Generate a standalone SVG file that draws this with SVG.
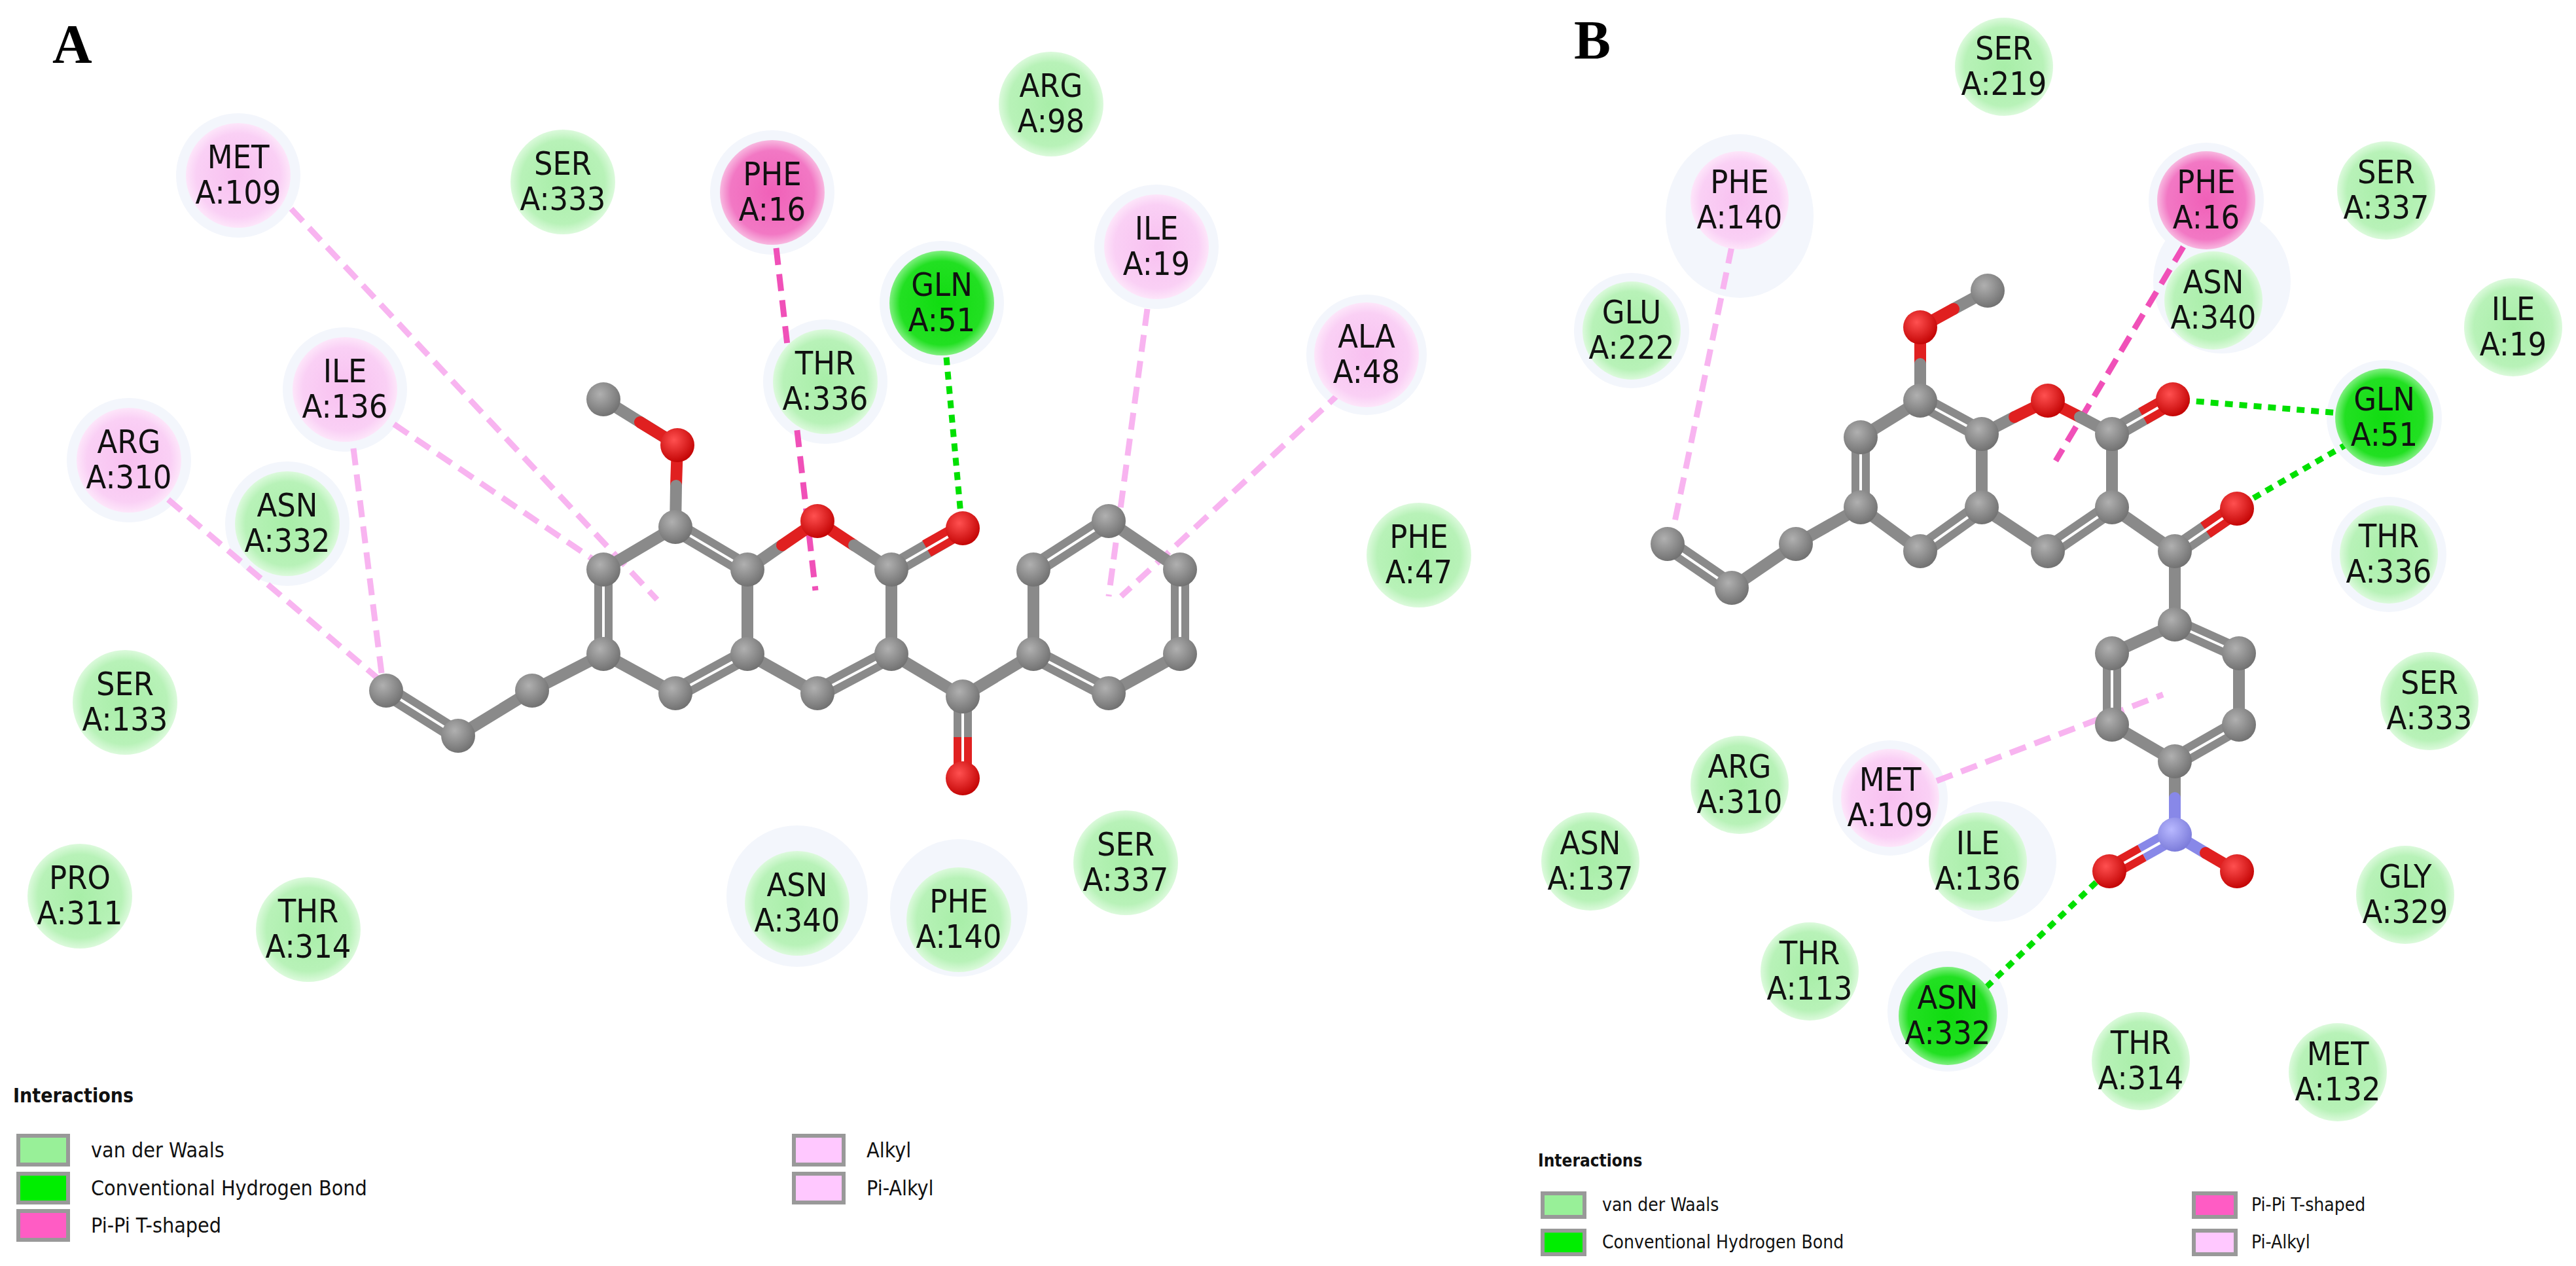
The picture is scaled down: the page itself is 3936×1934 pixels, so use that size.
<svg xmlns="http://www.w3.org/2000/svg" width="3936" height="1934" viewBox="0 0 3936 1934">
<defs>
<radialGradient id="gC" cx="0.4" cy="0.35" r="0.7"><stop offset="0" stop-color="#b0b0b0"/><stop offset="1" stop-color="#6e6e6e"/></radialGradient>
<radialGradient id="gO" cx="0.4" cy="0.35" r="0.7"><stop offset="0" stop-color="#ff5050"/><stop offset="1" stop-color="#c00000"/></radialGradient>
<radialGradient id="gN" cx="0.4" cy="0.35" r="0.7"><stop offset="0" stop-color="#b8b8ff"/><stop offset="1" stop-color="#7878d8"/></radialGradient>
<radialGradient id="vg"><stop offset="0" stop-color="#a8eea8"/><stop offset="0.8" stop-color="#b8f2b8"/><stop offset="1" stop-color="#dcfadc"/></radialGradient>
<radialGradient id="hg"><stop offset="0" stop-color="#10dc10"/><stop offset="0.8" stop-color="#22e022"/><stop offset="1" stop-color="#80f080"/></radialGradient>
<radialGradient id="pp"><stop offset="0" stop-color="#f060b8"/><stop offset="0.8" stop-color="#f278c4"/><stop offset="1" stop-color="#f8b8e0"/></radialGradient>
<radialGradient id="lp"><stop offset="0" stop-color="#f8c0f0"/><stop offset="0.8" stop-color="#fad0f5"/><stop offset="1" stop-color="#fde6fa"/></radialGradient>
</defs>
<style>
.t{font-family:"DejaVu Sans Condensed","DejaVu Sans",sans-serif;font-stretch:condensed;font-size:50px;fill:#111;text-anchor:middle}
.halo{fill:#f3f6fc}
.b{stroke:#8a8a8a;stroke-width:18;stroke-linecap:round;fill:none}
.d{stroke:#8a8a8a;stroke-width:28;stroke-linecap:butt;fill:none}
.r{stroke:#e02020}
.n{stroke:#8888e8}
.w{stroke:#fff;stroke-width:4;fill:none}
.lab{font-family:"Liberation Serif",serif;font-weight:bold;font-size:84px;fill:#000}
.lg{font-family:"DejaVu Sans Condensed","DejaVu Sans",sans-serif;font-stretch:condensed;fill:#111}
.sw{stroke:#999;stroke-width:6}
.pl{stroke:#f8b4f0;stroke-width:9;stroke-dasharray:26 14;fill:none}
.hp{stroke:#f050b8;stroke-width:9;stroke-dasharray:26 14;fill:none}
.hb{stroke:#00e000;stroke-width:9;stroke-dasharray:12 10;fill:none}
</style>
<rect width="3936" height="1934" fill="#fff"/>
<text class="lab" x="80" y="96">A</text>
<text class="lab" x="2405" y="90">B</text>

<g id="halosA">
<circle class="halo" cx="364" cy="268" r="95"/><circle class="halo" cx="1180" cy="294" r="95"/><circle class="halo" cx="1767" cy="377" r="95"/>
<circle class="halo" cx="1439" cy="463" r="95"/><circle class="halo" cx="1261" cy="583" r="95"/><circle class="halo" cx="527" cy="595" r="95"/>
<circle class="halo" cx="197" cy="703" r="95"/><circle class="halo" cx="439" cy="800" r="95"/><circle class="halo" cx="1218" cy="1369" r="108"/>
<circle class="halo" cx="1465" cy="1387" r="105"/><circle class="halo" cx="2088" cy="542" r="92"/>
</g>
<g id="halosB">
<ellipse class="halo" cx="2658" cy="330" rx="113" ry="125"/><circle class="halo" cx="3371" cy="306" r="88"/><ellipse class="halo" cx="3395" cy="430" rx="105" ry="110"/>
<circle class="halo" cx="3643" cy="638" r="88"/><circle class="halo" cx="3650" cy="847" r="88"/><circle class="halo" cx="2888" cy="1219" r="88"/>
<circle class="halo" cx="3050" cy="1316" r="92"/><circle class="halo" cx="2976" cy="1545" r="92"/><circle class="halo" cx="2493" cy="505" r="88"/>
</g>

<g id="connectors">
<line class="pl" x1="445" y1="319" x2="1004" y2="916"/>
<line class="pl" x1="602" y1="648" x2="935" y2="874"/>
<line class="pl" x1="540" y1="685" x2="584" y2="1036"/>
<line class="pl" x1="257" y1="763" x2="577" y2="1036"/>
<line class="hp" x1="1186" y1="379" x2="1246" y2="902"/>
<line class="hb" x1="1446" y1="546" x2="1468" y2="786"/>
<line class="pl" x1="1753" y1="472" x2="1694" y2="911"/>
<line class="pl" x1="2050" y1="598" x2="1713" y2="911"/>
<line class="pl" x1="2646" y1="377" x2="2555" y2="816"/>
<line class="hp" x1="3336" y1="377" x2="3141" y2="704"/>
<line class="hb" x1="3587" y1="632" x2="3342" y2="612"/>
<line class="hb" x1="3587" y1="678" x2="3436" y2="765"/>
<line class="pl" x1="2959" y1="1193" x2="3305" y2="1061"/>
<line class="hb" x1="3035" y1="1508" x2="3210" y2="1341"/>
</g>

<g id="moleculeA">
<g>
<line class="d" x1="1032" y1="805" x2="1142" y2="870"/>
<line class="d" x1="922" y1="870" x2="922" y2="999"/>
<line class="d" x1="1032" y1="1059" x2="1142" y2="999"/>
<line class="d" x1="1362" y1="999" x2="1249" y2="1059"/>
<line class="d" x1="1362" y1="870" x2="1471" y2="807"/>
<line class="d r" x1="1416" y1="838" x2="1471" y2="807"/>
<line class="d" x1="1471" y1="1064" x2="1471" y2="1189"/>
<line class="d r" x1="1471" y1="1126" x2="1471" y2="1189"/>
<line class="d" x1="1579" y1="870" x2="1694" y2="796"/>
<line class="d" x1="1803" y1="870" x2="1803" y2="999"/>
<line class="d" x1="1694" y1="1059" x2="1579" y2="999"/>
<line class="d" x1="700" y1="1124" x2="590" y2="1055"/>
</g>
<g>
<line class="b" x1="922" y1="610" x2="1035" y2="680"/>
<line class="b r" x1="978" y1="645" x2="1035" y2="680"/>
<line class="b r" x1="1035" y1="680" x2="1033" y2="742"/>
<line class="b" x1="1033" y1="742" x2="1032" y2="805"/>
<line class="b" x1="1032" y1="805" x2="922" y2="870"/>
<line class="b" x1="922" y1="999" x2="1032" y2="1059"/>
<line class="b" x1="1142" y1="999" x2="1142" y2="870"/>
<line class="b" x1="1142" y1="870" x2="1195" y2="833"/>
<line class="b r" x1="1195" y1="833" x2="1249" y2="796"/>
<line class="b r" x1="1249" y1="796" x2="1305" y2="833"/>
<line class="b" x1="1305" y1="833" x2="1362" y2="870"/>
<line class="b" x1="1362" y1="870" x2="1362" y2="999"/>
<line class="b" x1="1142" y1="999" x2="1249" y2="1059"/>
<line class="b" x1="1362" y1="999" x2="1471" y2="1064"/>
<line class="b" x1="1471" y1="1064" x2="1579" y2="999"/>
<line class="b" x1="1579" y1="999" x2="1579" y2="870"/>
<line class="b" x1="1694" y1="796" x2="1803" y2="870"/>
<line class="b" x1="1803" y1="999" x2="1694" y2="1059"/>
<line class="b" x1="922" y1="999" x2="813" y2="1055"/>
<line class="b" x1="813" y1="1055" x2="700" y2="1124"/>
</g>
<g class="w">
<line x1="1032" y1="805" x2="1142" y2="870"/><line x1="922" y1="870" x2="922" y2="999"/><line x1="1032" y1="1059" x2="1142" y2="999"/>
<line x1="1362" y1="999" x2="1249" y2="1059"/><line x1="1362" y1="870" x2="1471" y2="807"/><line x1="1471" y1="1064" x2="1471" y2="1189"/>
<line x1="1579" y1="870" x2="1694" y2="796"/><line x1="1803" y1="870" x2="1803" y2="999"/><line x1="1694" y1="1059" x2="1579" y2="999"/>
<line x1="700" y1="1124" x2="590" y2="1055"/>
</g>
<g fill="url(#gC)">
<circle cx="922" cy="610" r="26"/><circle cx="1032" cy="805" r="26"/><circle cx="922" cy="870" r="26"/><circle cx="922" cy="999" r="26"/>
<circle cx="1032" cy="1059" r="26"/><circle cx="1142" cy="999" r="26"/><circle cx="1142" cy="870" r="26"/><circle cx="1362" cy="870" r="26"/>
<circle cx="1362" cy="999" r="26"/><circle cx="1249" cy="1059" r="26"/><circle cx="1471" cy="1064" r="26"/><circle cx="1579" cy="999" r="26"/>
<circle cx="1579" cy="870" r="26"/><circle cx="1694" cy="796" r="26"/><circle cx="1803" cy="870" r="26"/><circle cx="1803" cy="999" r="26"/>
<circle cx="1694" cy="1059" r="26"/><circle cx="813" cy="1055" r="26"/><circle cx="700" cy="1124" r="26"/><circle cx="590" cy="1055" r="26"/>
</g>
<g fill="url(#gO)">
<circle cx="1035" cy="680" r="26"/><circle cx="1249" cy="796" r="26"/><circle cx="1471" cy="807" r="26"/><circle cx="1471" cy="1189" r="26"/>
</g>
</g>

<g id="moleculeB">
<g>
<line class="d" x1="2934" y1="612" x2="3028" y2="663"/>
<line class="d" x1="2843" y1="668" x2="2843" y2="775"/>
<line class="d" x1="2934" y1="842" x2="3028" y2="775"/>
<line class="d" x1="3227" y1="775" x2="3129" y2="842"/>
<line class="d" x1="3227" y1="663" x2="3320" y2="610"/>
<line class="d r" x1="3274" y1="636" x2="3320" y2="610"/>
<line class="d" x1="3323" y1="842" x2="3418" y2="777"/>
<line class="d r" x1="3370" y1="810" x2="3418" y2="777"/>
<line class="d" x1="3323" y1="954" x2="3421" y2="998"/>
<line class="d" x1="3227" y1="998" x2="3227" y2="1107"/>
<line class="d" x1="3421" y1="1107" x2="3323" y2="1163"/>
<line class="d" x1="2646" y1="898" x2="2548" y2="831"/>
<line class="d n" x1="3323" y1="1275" x2="3273" y2="1303"/>
<line class="d r" x1="3273" y1="1303" x2="3223" y2="1331"/>
</g>
<g>
<line class="b" x1="3037" y1="444" x2="2985" y2="472"/>
<line class="b r" x1="2985" y1="472" x2="2934" y2="500"/>
<line class="b r" x1="2934" y1="500" x2="2934" y2="556"/>
<line class="b" x1="2934" y1="556" x2="2934" y2="612"/>
<line class="b" x1="2934" y1="612" x2="2843" y2="668"/>
<line class="b" x1="2843" y1="775" x2="2934" y2="842"/>
<line class="b" x1="3028" y1="775" x2="3028" y2="663"/>
<line class="b" x1="3028" y1="663" x2="3078" y2="637"/>
<line class="b r" x1="3078" y1="637" x2="3129" y2="612"/>
<line class="b r" x1="3129" y1="612" x2="3178" y2="637"/>
<line class="b" x1="3178" y1="637" x2="3227" y2="663"/>
<line class="b" x1="3227" y1="663" x2="3227" y2="775"/>
<line class="b" x1="3028" y1="775" x2="3129" y2="842"/>
<line class="b" x1="3227" y1="775" x2="3323" y2="842"/>
<line class="b" x1="3323" y1="842" x2="3323" y2="954"/>
<line class="b" x1="3323" y1="954" x2="3227" y2="998"/>
<line class="b" x1="3421" y1="998" x2="3421" y2="1107"/>
<line class="b" x1="3227" y1="1107" x2="3323" y2="1163"/>
<line class="b" x1="3323" y1="1163" x2="3323" y2="1219"/>
<line class="b n" x1="3323" y1="1219" x2="3323" y2="1275"/>
<line class="b n" x1="3323" y1="1275" x2="3370" y2="1303"/>
<line class="b r" x1="3370" y1="1303" x2="3418" y2="1331"/>
<line class="b" x1="2843" y1="775" x2="2744" y2="831"/>
<line class="b" x1="2744" y1="831" x2="2646" y2="898"/>
</g>
<g class="w">
<line x1="2934" y1="612" x2="3028" y2="663"/><line x1="2843" y1="668" x2="2843" y2="775"/><line x1="2934" y1="842" x2="3028" y2="775"/>
<line x1="3227" y1="775" x2="3129" y2="842"/><line x1="3227" y1="663" x2="3320" y2="610"/><line x1="3323" y1="842" x2="3418" y2="777"/>
<line x1="3323" y1="954" x2="3421" y2="998"/><line x1="3227" y1="998" x2="3227" y2="1107"/><line x1="3421" y1="1107" x2="3323" y2="1163"/>
<line x1="2646" y1="898" x2="2548" y2="831"/><line x1="3323" y1="1275" x2="3223" y2="1331"/>
</g>
<g fill="url(#gC)">
<circle cx="3037" cy="444" r="26"/><circle cx="2934" cy="612" r="26"/><circle cx="2843" cy="668" r="26"/><circle cx="2843" cy="775" r="26"/>
<circle cx="2934" cy="842" r="26"/><circle cx="3028" cy="775" r="26"/><circle cx="3028" cy="663" r="26"/><circle cx="3227" cy="663" r="26"/>
<circle cx="3227" cy="775" r="26"/><circle cx="3129" cy="842" r="26"/><circle cx="3323" cy="842" r="26"/><circle cx="3323" cy="954" r="26"/>
<circle cx="3227" cy="998" r="26"/><circle cx="3421" cy="998" r="26"/><circle cx="3227" cy="1107" r="26"/><circle cx="3421" cy="1107" r="26"/>
<circle cx="3323" cy="1163" r="26"/><circle cx="2744" cy="831" r="26"/><circle cx="2646" cy="898" r="26"/><circle cx="2548" cy="831" r="26"/>
</g>
<g fill="url(#gO)">
<circle cx="2934" cy="500" r="26"/><circle cx="3129" cy="612" r="26"/><circle cx="3320" cy="610" r="26"/><circle cx="3418" cy="777" r="26"/>
<circle cx="3223" cy="1331" r="26"/><circle cx="3418" cy="1331" r="26"/>
</g>
<circle cx="3323" cy="1275" r="26" fill="url(#gN)"/>
</g>

<g id="A-MET109"><circle cx="364" cy="268" r="80" fill="url(#lp)"/><text class="t" x="364" y="257">MET</text><text class="t" x="364" y="311">A:109</text></g>
<g id="A-SER333"><circle cx="860" cy="278" r="80" fill="url(#vg)"/><text class="t" x="860" y="267">SER</text><text class="t" x="860" y="321">A:333</text></g>
<g id="A-PHE16"><circle cx="1180" cy="294" r="80" fill="url(#pp)"/><text class="t" x="1180" y="283">PHE</text><text class="t" x="1180" y="337">A:16</text></g>
<g id="A-ARG98"><circle cx="1606" cy="159" r="80" fill="url(#vg)"/><text class="t" x="1606" y="148">ARG</text><text class="t" x="1606" y="202">A:98</text></g>
<g id="A-ILE19"><circle cx="1767" cy="377" r="80" fill="url(#lp)"/><text class="t" x="1767" y="366">ILE</text><text class="t" x="1767" y="420">A:19</text></g>
<g id="A-GLN51"><circle cx="1439" cy="463" r="80" fill="url(#hg)"/><text class="t" x="1439" y="452">GLN</text><text class="t" x="1439" y="506">A:51</text></g>
<g id="A-THR336"><circle cx="1261" cy="583" r="80" fill="url(#vg)"/><text class="t" x="1261" y="572">THR</text><text class="t" x="1261" y="626">A:336</text></g>
<g id="A-ILE136"><circle cx="527" cy="595" r="80" fill="url(#lp)"/><text class="t" x="527" y="584">ILE</text><text class="t" x="527" y="638">A:136</text></g>
<g id="A-ALA48"><circle cx="2088" cy="542" r="80" fill="url(#lp)"/><text class="t" x="2088" y="531">ALA</text><text class="t" x="2088" y="585">A:48</text></g>
<g id="A-ARG310"><circle cx="197" cy="703" r="80" fill="url(#lp)"/><text class="t" x="197" y="692">ARG</text><text class="t" x="197" y="746">A:310</text></g>
<g id="A-ASN332"><circle cx="439" cy="800" r="80" fill="url(#vg)"/><text class="t" x="439" y="789">ASN</text><text class="t" x="439" y="843">A:332</text></g>
<g id="A-PHE47"><circle cx="2168" cy="848" r="80" fill="url(#vg)"/><text class="t" x="2168" y="837">PHE</text><text class="t" x="2168" y="891">A:47</text></g>
<g id="A-SER133"><circle cx="191" cy="1073" r="80" fill="url(#vg)"/><text class="t" x="191" y="1062">SER</text><text class="t" x="191" y="1116">A:133</text></g>
<g id="A-PRO311"><circle cx="122" cy="1369" r="80" fill="url(#vg)"/><text class="t" x="122" y="1358">PRO</text><text class="t" x="122" y="1412">A:311</text></g>
<g id="A-THR314"><circle cx="471" cy="1420" r="80" fill="url(#vg)"/><text class="t" x="471" y="1409">THR</text><text class="t" x="471" y="1463">A:314</text></g>
<g id="A-ASN340"><circle cx="1218" cy="1380" r="80" fill="url(#vg)"/><text class="t" x="1218" y="1369">ASN</text><text class="t" x="1218" y="1423">A:340</text></g>
<g id="A-PHE140"><circle cx="1465" cy="1405" r="80" fill="url(#vg)"/><text class="t" x="1465" y="1394">PHE</text><text class="t" x="1465" y="1448">A:140</text></g>
<g id="A-SER337"><circle cx="1720" cy="1318" r="80" fill="url(#vg)"/><text class="t" x="1720" y="1307">SER</text><text class="t" x="1720" y="1361">A:337</text></g>

<g id="B-SER219"><circle cx="3062" cy="102" r="75" fill="url(#vg)"/><text class="t" x="3062" y="91">SER</text><text class="t" x="3062" y="145">A:219</text></g>
<g id="B-PHE140"><circle cx="2658" cy="306" r="75" fill="url(#lp)"/><text class="t" x="2658" y="295">PHE</text><text class="t" x="2658" y="349">A:140</text></g>
<g id="B-PHE16"><circle cx="3371" cy="306" r="75" fill="url(#pp)"/><text class="t" x="3371" y="295">PHE</text><text class="t" x="3371" y="349">A:16</text></g>
<g id="B-SER337"><circle cx="3646" cy="291" r="75" fill="url(#vg)"/><text class="t" x="3646" y="280">SER</text><text class="t" x="3646" y="334">A:337</text></g>
<g id="B-ASN340"><circle cx="3382" cy="459" r="75" fill="url(#vg)"/><text class="t" x="3382" y="448">ASN</text><text class="t" x="3382" y="502">A:340</text></g>
<g id="B-ILE19"><circle cx="3840" cy="500" r="75" fill="url(#vg)"/><text class="t" x="3840" y="489">ILE</text><text class="t" x="3840" y="543">A:19</text></g>
<g id="B-GLU222"><circle cx="2493" cy="505" r="75" fill="url(#vg)"/><text class="t" x="2493" y="494">GLU</text><text class="t" x="2493" y="548">A:222</text></g>
<g id="B-GLN51"><circle cx="3643" cy="638" r="75" fill="url(#hg)"/><text class="t" x="3643" y="627">GLN</text><text class="t" x="3643" y="681">A:51</text></g>
<g id="B-THR336"><circle cx="3650" cy="847" r="75" fill="url(#vg)"/><text class="t" x="3650" y="836">THR</text><text class="t" x="3650" y="890">A:336</text></g>
<g id="B-SER333"><circle cx="3712" cy="1071" r="75" fill="url(#vg)"/><text class="t" x="3712" y="1060">SER</text><text class="t" x="3712" y="1114">A:333</text></g>
<g id="B-ARG310"><circle cx="2658" cy="1199" r="75" fill="url(#vg)"/><text class="t" x="2658" y="1188">ARG</text><text class="t" x="2658" y="1242">A:310</text></g>
<g id="B-MET109"><circle cx="2888" cy="1219" r="75" fill="url(#lp)"/><text class="t" x="2888" y="1208">MET</text><text class="t" x="2888" y="1262">A:109</text></g>
<g id="B-ILE136"><circle cx="3022" cy="1316" r="75" fill="url(#vg)"/><text class="t" x="3022" y="1305">ILE</text><text class="t" x="3022" y="1359">A:136</text></g>
<g id="B-ASN137"><circle cx="2430" cy="1316" r="75" fill="url(#vg)"/><text class="t" x="2430" y="1305">ASN</text><text class="t" x="2430" y="1359">A:137</text></g>
<g id="B-GLY329"><circle cx="3675" cy="1367" r="75" fill="url(#vg)"/><text class="t" x="3675" y="1356">GLY</text><text class="t" x="3675" y="1410">A:329</text></g>
<g id="B-THR113"><circle cx="2765" cy="1484" r="75" fill="url(#vg)"/><text class="t" x="2765" y="1473">THR</text><text class="t" x="2765" y="1527">A:113</text></g>
<g id="B-ASN332"><circle cx="2976" cy="1552" r="75" fill="url(#hg)"/><text class="t" x="2976" y="1541">ASN</text><text class="t" x="2976" y="1595">A:332</text></g>
<g id="B-THR314"><circle cx="3271" cy="1621" r="75" fill="url(#vg)"/><text class="t" x="3271" y="1610">THR</text><text class="t" x="3271" y="1664">A:314</text></g>
<g id="B-MET132"><circle cx="3572" cy="1638" r="75" fill="url(#vg)"/><text class="t" x="3572" y="1627">MET</text><text class="t" x="3572" y="1681">A:132</text></g>

<g id="legendA" class="lg">
<text x="20" y="1684" font-size="30" font-weight="bold">Interactions</text>
<rect class="sw" x="28" y="1735" width="76" height="44" fill="#98f098"/>
<text x="139" y="1768" font-size="32">van der Waals</text>
<rect class="sw" x="28" y="1793" width="76" height="44" fill="#00ee00"/>
<text x="139" y="1826" font-size="32">Conventional Hydrogen Bond</text>
<rect class="sw" x="28" y="1850" width="76" height="44" fill="#ff5cc4"/>
<text x="139" y="1883" font-size="32">Pi-Pi T-shaped</text>
<rect class="sw" x="1213" y="1735" width="76" height="44" fill="#ffc8ff"/>
<text x="1324" y="1768" font-size="32">Alkyl</text>
<rect class="sw" x="1213" y="1793" width="76" height="44" fill="#ffc8ff"/>
<text x="1324" y="1826" font-size="32">Pi-Alkyl</text>
</g>
<g id="legendB" class="lg">
<text x="2350" y="1782" font-size="26" font-weight="bold">Interactions</text>
<rect class="sw" x="2357" y="1823" width="64" height="36" fill="#98f098"/>
<text x="2448" y="1850" font-size="28">van der Waals</text>
<rect class="sw" x="2357" y="1880" width="64" height="36" fill="#00ee00"/>
<text x="2448" y="1907" font-size="28">Conventional Hydrogen Bond</text>
<rect class="sw" x="3352" y="1823" width="64" height="36" fill="#ff5cc4"/>
<text x="3440" y="1850" font-size="28">Pi-Pi T-shaped</text>
<rect class="sw" x="3352" y="1880" width="64" height="36" fill="#ffc8ff"/>
<text x="3440" y="1907" font-size="28">Pi-Alkyl</text>
</g>
</svg>
